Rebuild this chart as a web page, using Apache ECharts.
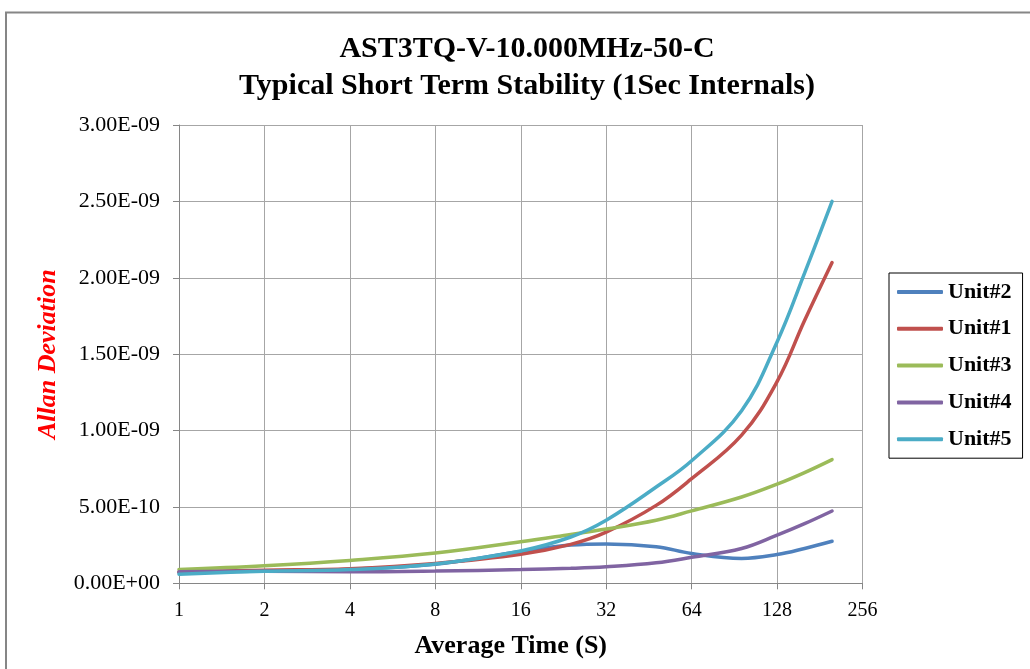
<!DOCTYPE html>
<html>
<head>
<meta charset="utf-8">
<script src="https://cdn.jsdelivr.net/npm/echarts@6/dist/echarts.min.js"></script>
<style>
html,body{margin:0;padding:0;background:#fff;}
#chart{width:1030px;height:669px;}
</style>
</head>
<body>
<div id="chart"></div>
<script>
// Average time (s)
var tau = [1, 2, 4, 8, 16, 24, 32, 48, 64, 96, 128, 160, 200];
// Allan deviation per unit
var unit2 = [0.70e-10, 0.80e-10, 0.92e-10, 1.25e-10, 2.08e-10, 2.50e-10, 2.58e-10, 2.40e-10, 1.95e-10, 1.63e-10, 1.88e-10, 2.28e-10, 2.75e-10];
var unit1 = [0.74e-10, 0.85e-10, 0.96e-10, 1.30e-10, 1.90e-10, 2.55e-10, 3.35e-10, 5.10e-10, 6.85e-10, 9.70e-10, 13.2e-10, 17.2e-10, 21.0e-10];
var unit3 = [0.90e-10, 1.15e-10, 1.50e-10, 1.98e-10, 2.72e-10, 3.20e-10, 3.55e-10, 4.13e-10, 4.74e-10, 5.65e-10, 6.49e-10, 7.25e-10, 8.10e-10];
var unit4 = [0.76e-10, 0.79e-10, 0.75e-10, 0.80e-10, 0.90e-10, 0.98e-10, 1.08e-10, 1.34e-10, 1.70e-10, 2.28e-10, 3.15e-10, 3.90e-10, 4.73e-10];
var unit5 = [0.60e-10, 0.79e-10, 0.90e-10, 1.27e-10, 2.12e-10, 3.03e-10, 4.13e-10, 6.30e-10, 8.02e-10, 11.3e-10, 15.8e-10, 20.3e-10, 25.0e-10];

var seriesNames = ['Unit#2', 'Unit#1', 'Unit#3', 'Unit#4', 'Unit#5'];
var seriesValues = [unit2, unit1, unit3, unit4, unit5];
var seriesColors = ['#4F81BD', '#C0504D', '#9BBB59', '#8064A2', '#4BACC6'];

var titleLines = ['AST3TQ-V-10.000MHz-50-C', 'Typical Short Term Stability (1Sec Internals)'];
var xAxisTitle = 'Average Time (S)';
var yAxisTitle = 'Allan Deviation';

function sci(v) {
  if (v === 0) return '0.00E+00';
  var e = Math.floor(Math.log10(Math.abs(v)) + 1e-9);
  var m = v * Math.pow(10, -e);
  if (Math.abs(m) >= 9.995) { m /= 10; e++; }
  return m.toFixed(2) + 'E' + (e < 0 ? '-' : '+') + String(Math.abs(e)).padStart(2, '0');
}

var serif = '"Liberation Serif", "Times New Roman", serif';

var series = seriesNames.map(function (n, i) {
  return {
    name: n,
    type: 'line',
    data: tau.map(function (t, k) { return [t, seriesValues[i][k]]; }),
    smooth: 0.4,
    showSymbol: false,
    symbol: 'none',
    lineStyle: { width: 3.5, color: seriesColors[i], cap: 'round' },
    itemStyle: { color: seriesColors[i] },
    z: 2 + i
  };
});

var chart = echarts.init(document.getElementById('chart'));
chart.setOption({
  animation: false,
  backgroundColor: '#ffffff',
  title: {
    text: titleLines.join('\n'),
    left: 522,
    textAlign: 'center',
    top: 26,
    textStyle: { fontFamily: serif, fontWeight: 'bold', fontSize: 30, color: '#000', lineHeight: 37 }
  },
  graphic: [{
    type: 'rect',
    shape: { x: 6, y: 12.5, width: 1200, height: 1000 },
    style: { fill: 'none', stroke: '#868686', lineWidth: 2 },
    silent: true
  }],
  legend: {
    orient: 'vertical',
    left: 889,
    top: 273,
    padding: [8, 11, 8, 8],
    itemGap: 14.8,
    itemWidth: 46,
    itemHeight: 4,
    icon: 'roundRect',
    borderColor: '#000',
    borderWidth: 1,
    textStyle: { fontFamily: serif, fontWeight: 'bold', fontSize: 22, color: '#000' },
    data: seriesNames
  },
  grid: { left: 179, right: 167.5, top: 125, bottom: 85.7, containLabel: false },
  xAxis: {
    type: 'log',
    logBase: 2,
    min: 1,
    max: 256,
    splitNumber: 8,
    name: xAxisTitle,
    nameLocation: 'middle',
    nameGap: 50,
    nameTextStyle: { fontFamily: serif, fontWeight: 'bold', fontSize: 26, color: '#000', padding: [0, 20, 0, 0] },
    axisLine: { show: true, lineStyle: { color: '#868686', width: 1 } },
    axisTick: { show: true, length: 6, lineStyle: { color: '#868686' } },
    axisLabel: { fontFamily: serif, fontSize: 20, color: '#000', margin: 17 },
    splitLine: { show: true, lineStyle: { color: '#A6A6A6', width: 1 } },
    minorTick: { show: false },
    minorSplitLine: { show: false }
  },
  yAxis: {
    type: 'value',
    min: 0,
    max: 3e-9,
    interval: 5e-10,
    name: yAxisTitle,
    nameLocation: 'middle',
    nameRotate: 90,
    nameGap: 118,
    nameTextStyle: { fontFamily: serif, fontWeight: 'bold', fontStyle: 'italic', fontSize: 26, color: '#FF0000' },
    axisLine: { show: true, lineStyle: { color: '#868686', width: 1 } },
    axisTick: { show: true, length: 6, lineStyle: { color: '#868686' } },
    axisLabel: { fontFamily: serif, fontSize: 22, color: '#000', margin: 19, formatter: sci },
    splitLine: { show: true, lineStyle: { color: '#A6A6A6', width: 1 } }
  },
  series: series
});
</script>
</body>
</html>
